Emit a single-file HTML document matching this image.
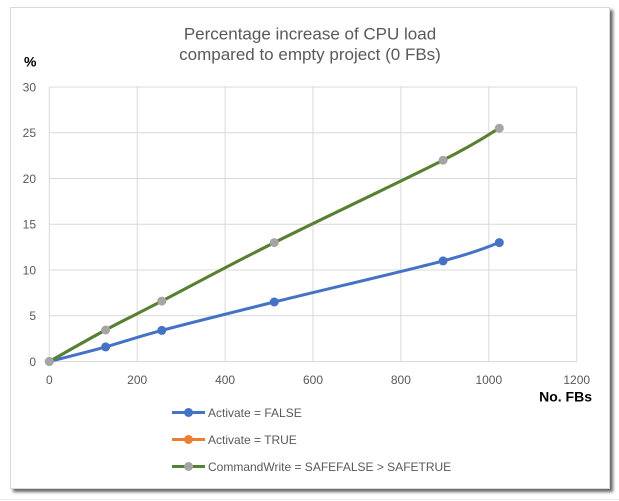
<!DOCTYPE html>
<html>
<head>
<meta charset="utf-8">
<style>
  html, body { margin: 0; padding: 0; background: #ffffff; }
  body { width: 619px; height: 501px; position: relative; overflow: hidden; }
  .frame {
    position: absolute; left: 10px; top: 7px; width: 598px; height: 480px;
    background: #fff; border: 1px solid #d9d9d9;
    box-shadow: 3px 3px 3px rgba(0,0,0,0.6);
  }
  svg { position: absolute; left: 0; top: 0; }
  text { font-family: "Liberation Sans", Arial, sans-serif; }
</style>
</head>
<body>
<div class="frame"></div>
<svg width="619" height="501" viewBox="0 0 619 501" xmlns="http://www.w3.org/2000/svg">
  <line x1="0" y1="499.5" x2="619" y2="499.5" stroke="#eeeeee" stroke-width="1"/>
  <!-- Title -->
  <text x="310" y="39.5" font-size="17" fill="#595959" text-anchor="middle">Percentage increase of CPU load</text>
  <text x="310" y="60" font-size="17" fill="#595959" text-anchor="middle">compared to empty project (0 FBs)</text>
  <!-- axis titles -->
  <text x="24" y="66.5" font-size="14" font-weight="bold" fill="#000">%</text>
  <text x="592" y="401.7" font-size="14" font-weight="bold" fill="#000" text-anchor="end">No. FBs</text>

  <!-- gridlines horizontal -->
  <g stroke="#d9d9d9" stroke-width="1">
    <line x1="49.3" y1="87" x2="576.7" y2="87"/>
    <line x1="49.3" y1="132.75" x2="576.7" y2="132.75"/>
    <line x1="49.3" y1="178.5" x2="576.7" y2="178.5"/>
    <line x1="49.3" y1="224.25" x2="576.7" y2="224.25"/>
    <line x1="49.3" y1="270" x2="576.7" y2="270"/>
    <line x1="49.3" y1="315.75" x2="576.7" y2="315.75"/>
    <line x1="49.3" y1="361.5" x2="576.7" y2="361.5"/>
    <!-- vertical -->
    <line x1="49.3" y1="87" x2="49.3" y2="361.5"/>
    <line x1="137.2" y1="87" x2="137.2" y2="361.5"/>
    <line x1="225.1" y1="87" x2="225.1" y2="361.5"/>
    <line x1="313" y1="87" x2="313" y2="361.5"/>
    <line x1="400.9" y1="87" x2="400.9" y2="361.5"/>
    <line x1="488.8" y1="87" x2="488.8" y2="361.5"/>
    <line x1="576.7" y1="87" x2="576.7" y2="361.5"/>
  </g>

  <!-- y tick labels -->
  <g font-size="12" fill="#595959" text-anchor="end">
    <text x="36" y="91.3">30</text>
    <text x="36" y="137">25</text>
    <text x="36" y="182.8">20</text>
    <text x="36" y="228.5">15</text>
    <text x="36" y="274.3">10</text>
    <text x="36" y="320">5</text>
    <text x="36" y="365.8">0</text>
  </g>
  <!-- x tick labels -->
  <g font-size="12" fill="#595959" text-anchor="middle">
    <text x="49.3" y="384">0</text>
    <text x="137.2" y="384">200</text>
    <text x="225.1" y="384">400</text>
    <text x="313" y="384">600</text>
    <text x="400.9" y="384">800</text>
    <text x="488.8" y="384">1000</text>
    <text x="576.7" y="384">1200</text>
  </g>

  <!-- Blue series -->
  <path d="M49.3,361.5 C58.7,359.1 86.9,352.1 105.6,346.9 C124.4,341.7 133.7,337.9 161.8,330.4 C189.9,322.9 227.4,313.6 274.3,302.0 C321.2,290.4 405.6,270.8 443.1,260.9 C480.6,251.0 489.9,245.7 499.3,242.6"
        fill="none" stroke="#4472C4" stroke-width="3" stroke-linecap="round"/>
  <g fill="#4472C4">
    <circle cx="49.3" cy="361.5" r="4.5"/>
    <circle cx="105.6" cy="346.9" r="4.5"/>
    <circle cx="161.8" cy="330.4" r="4.5"/>
    <circle cx="274.3" cy="302.0" r="4.5"/>
    <circle cx="443.1" cy="260.9" r="4.5"/>
    <circle cx="499.3" cy="242.6" r="4.5"/>
  </g>

  <!-- Orange series (hidden under green) -->
  <path d="M49.3,361.5 C58.7,356.25 86.85,340.07 105.6,330.0 C124.4,319.93 133.7,315.67 161.8,301.1 C189.9,286.53 227.4,266.08 274.3,242.6 C321.2,219.12 405.6,179.27 443.1,160.2 C480.6,141.13 489.9,133.53 499.3,128.2"
        fill="none" stroke="#ED7D31" stroke-width="3"/>
  <!-- Green series -->
  <path d="M49.3,361.5 C58.7,356.25 86.85,340.07 105.6,330.0 C124.4,319.93 133.7,315.67 161.8,301.1 C189.9,286.53 227.4,266.08 274.3,242.6 C321.2,219.12 405.6,179.27 443.1,160.2 C480.6,141.13 489.9,133.53 499.3,128.2"
        fill="none" stroke="#548235" stroke-width="3" stroke-linecap="round"/>
  <g fill="#A5A5A5">
    <circle cx="49.3" cy="361.5" r="4.5"/>
    <circle cx="105.6" cy="330.0" r="4.5"/>
    <circle cx="161.8" cy="301.1" r="4.5"/>
    <circle cx="274.3" cy="242.6" r="4.5"/>
    <circle cx="443.1" cy="160.2" r="4.5"/>
    <circle cx="499.3" cy="128.2" r="4.5"/>
  </g>

  <!-- Legend -->
  <line x1="172" y1="412.5" x2="205" y2="412.5" stroke="#4472C4" stroke-width="3"/>
  <circle cx="188.5" cy="412.5" r="4.5" fill="#4472C4"/>
  <text x="208" y="416.8" font-size="12" fill="#595959">Activate = FALSE</text>

  <line x1="172" y1="439.5" x2="205" y2="439.5" stroke="#ED7D31" stroke-width="3"/>
  <circle cx="188.5" cy="439.5" r="4.5" fill="#ED7D31"/>
  <text x="208" y="443.8" font-size="12" fill="#595959">Activate = TRUE</text>

  <line x1="172" y1="466.5" x2="205" y2="466.5" stroke="#548235" stroke-width="3"/>
  <circle cx="188.5" cy="466.5" r="4.5" fill="#A5A5A5"/>
  <text x="208" y="470.8" font-size="12" fill="#595959">CommandWrite = SAFEFALSE &gt; SAFETRUE</text>
</svg>
</body>
</html>
